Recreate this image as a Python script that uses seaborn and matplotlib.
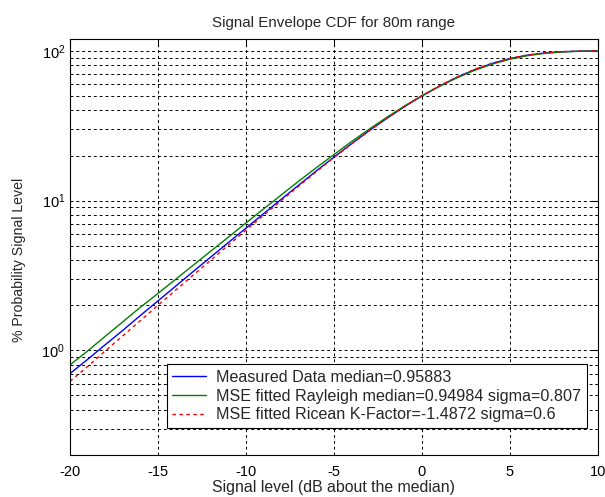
import matplotlib
matplotlib.use("Agg")
import matplotlib.pyplot as plt
import matplotlib.ticker as mticker
import numpy as np
import pandas as pd
import seaborn as sns

# Signal level relative to the median (dB)
level_db = [-20, -19, -18, -17, -16, -15, -14, -13, -12, -11, -10,
            -9, -8, -7, -6, -5, -4, -3, -2, -1, 0,
            1, 2, 3, 4, 5, 6, 7, 8, 9, 10]

# Cumulative probability (%) for each curve
measured = [0.70, 0.87, 1.09, 1.36, 1.71, 2.14, 2.68, 3.36, 4.20, 5.25, 6.55,
            8.18, 10.2, 12.7, 15.8, 19.5, 24.0, 29.3, 35.4, 42.4, 50.0,
            58.2, 66.7, 75.0, 82.5, 88.9, 93.7, 96.9, 98.7, 99.6, 99.9]
rayleigh = [0.80, 0.99, 1.24, 1.55, 1.94, 2.40, 2.98, 3.70, 4.60, 5.70, 7.10,
            8.80, 10.9, 13.5, 16.6, 20.3, 24.8, 30.0, 36.0, 42.8, 50.2,
            58.0, 66.2, 74.2, 81.6, 88.0, 92.9, 96.3, 98.4, 99.4, 99.8]
ricean = [0.62, 0.78, 0.99, 1.25, 1.58, 2.00, 2.52, 3.18, 4.00, 5.05, 6.35,
          7.98, 10.0, 12.5, 15.6, 19.4, 23.9, 29.3, 35.5, 42.6, 50.3,
          58.5, 67.0, 75.3, 82.8, 89.1, 93.8, 97.0, 98.8, 99.6, 99.9]

labels = ["Measured Data median=0.95883",
          "MSE fitted Rayleigh median=0.94984 sigma=0.807",
          "MSE fitted Ricean K-Factor=-1.4872 sigma=0.6"]

df = pd.DataFrame({
    "level": level_db * 3,
    "prob": measured + rayleigh + ricean,
    "curve": [labels[0]] * len(level_db) + [labels[1]] * len(level_db)
             + [labels[2]] * len(level_db),
})

sns.set_style("white")
plt.rcParams["font.family"] = ["Liberation Sans", "DejaVu Sans"]
plt.rcParams["mathtext.fontset"] = "custom"
plt.rcParams["mathtext.rm"] = "Liberation Sans"

fig = plt.figure(figsize=(6.05, 4.97), dpi=100)
ax = fig.add_axes([70 / 605, 1 - 455 / 497, 528 / 605, 416 / 497])

palette = {labels[0]: (0, 0, 1), labels[1]: (0, 0.5, 0), labels[2]: (1, 0, 0)}
dashes = {labels[0]: "", labels[1]: "", labels[2]: (2.5, 2.5)}
sns.lineplot(data=df, x="level", y="prob", hue="curve", style="curve",
             palette=palette, dashes=dashes, linewidth=1.0, ax=ax,
             legend=True)

ax.set_yscale("log")
ax.set_xlim(-20, 10)
ax.set_ylim(0.2, 120)
ax.set_xticks([-20, -15, -10, -5, 0, 5, 10])
ax.xaxis.set_major_formatter(mticker.FuncFormatter(lambda v, p: f"{v:g}"))
ax.yaxis.set_major_locator(mticker.LogLocator(base=10, numticks=10))
ax.yaxis.set_minor_locator(mticker.LogLocator(base=10, subs=np.arange(2, 10), numticks=20))
ax.yaxis.set_minor_formatter(mticker.NullFormatter())

ax.grid(True, which="major", axis="x", color="black", linestyle=(0, (3, 3)), linewidth=0.7)
ax.grid(True, which="both", axis="y", color="black", linestyle=(0, (3, 3)), linewidth=0.7)
ax.set_axisbelow(True)

for s in ax.spines.values():
    s.set_color("black")
    s.set_linewidth(0.8)
ax.tick_params(which="both", direction="in", top=True, right=True, colors="black",
               labelsize=10.5)
ax.tick_params(which="major", length=5, width=0.8)
ax.tick_params(which="minor", length=2.5, width=0.6)
ax.tick_params(axis="x", pad=7)

ax.set_title("Signal Envelope CDF for 80m range", fontsize=10.9, pad=9)
ax.set_xlabel("Signal level (dB about the median)", fontsize=11.4, labelpad=1)
ax.set_ylabel("% Probability Signal Level", fontsize=10.2)
ax.yaxis.set_label_coords(-0.083, 0.469)

leg = ax.legend(loc="lower right", bbox_to_anchor=(0.979, 0.065), fontsize=11.6,
                frameon=True, fancybox=False, edgecolor="black", framealpha=1,
                borderaxespad=0, handlelength=2.1, handletextpad=0.6,
                labelspacing=0.22, borderpad=0.36)
leg.get_frame().set_linewidth(0.8)

fig.savefig("out.png", dpi=100, facecolor="white")
